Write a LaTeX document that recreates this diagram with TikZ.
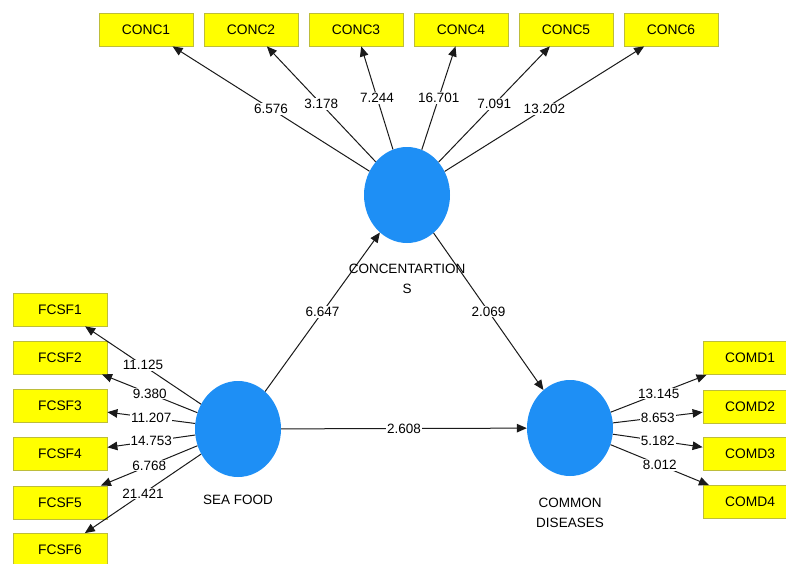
\documentclass[tikz,border=0pt]{standalone}
\usepackage{fontspec}
\setmainfont{Liberation Sans}
\usetikzlibrary{arrows.meta,shapes.geometric}
\definecolor{boxyellow}{HTML}{FFFF00}
\definecolor{boxedge}{HTML}{BDBD3A}
\definecolor{lvblue}{HTML}{1E8FF5}
\definecolor{linegray}{HTML}{1A1A1A}
\tikzset{
  ind/.style={rectangle, fill=boxyellow, draw=boxedge, line width=0.8pt,
    minimum width=94pt, minimum height=33pt, inner sep=0pt,
    font=\fontsize{13.8}{15}\selectfont},
  lv/.style={ellipse, fill=lvblue, draw=none, minimum width=86pt,
    minimum height=96pt, inner sep=0pt},
  lvtext/.style={align=center, font=\fontsize{13.5}{20}\selectfont, inner sep=0pt},
  arr/.style={draw=linegray, line width=1pt, -{Triangle[length=10pt,width=8.5pt]}},
  lab/.style={fill=white, inner sep=1pt, font=\fontsize{13.5}{15}\selectfont}
}
\begin{document}
\begin{tikzpicture}[x=1pt,y=-1pt]
\useasboundingbox (0,0) rectangle (786,563);
\fill[white] (0,0) rectangle (786,563);

% latent variables
\node[lv] (conc) at (407,195) {};
\node[lv] (sf) at (238,429) {};
\node[lv] (cd) at (570,428) {};

% indicator boxes
\node[ind] (c1) at (146,29.5) {CONC1};
\node[ind] (c2) at (251,29.5) {CONC2};
\node[ind] (c3) at (356,29.5) {CONC3};
\node[ind] (c4) at (461,29.5) {CONC4};
\node[ind] (c5) at (566,29.5) {CONC5};
\node[ind] (c6) at (671,29.5) {CONC6};

\node[ind] (f1) at (60,309.5) {FCSF1};
\node[ind] (f2) at (60,357.5) {FCSF2};
\node[ind] (f3) at (60,406) {FCSF3};
\node[ind] (f4) at (60,454) {FCSF4};
\node[ind] (f5) at (60,502.5) {FCSF5};
\node[ind] (f6) at (60,550) {FCSF6};

\node[ind] (d1) at (750,358) {COMD1};
\node[ind] (d2) at (750,406.5) {COMD2};
\node[ind] (d3) at (750,454) {COMD3};
\node[ind] (d4) at (750,502) {COMD4};

% outer loadings
\draw[arr] (conc) -- node[lab]{6.576} (c1);
\draw[arr] (conc) -- node[lab]{3.178} (c2);
\draw[arr] (conc) -- node[lab]{7.244} (c3);
\draw[arr] (conc) -- node[lab]{16.701} (c4);
\draw[arr] (conc) -- node[lab]{7.091} (c5);
\draw[arr] (conc) -- node[lab]{13.202} (c6);

\draw[arr] (sf) -- node[lab]{11.125} (f1);
\draw[arr] (sf) -- node[lab]{9.380} (f2);
\draw[arr] (sf) -- node[lab]{11.207} (f3);
\draw[arr] (sf) -- node[lab]{14.753} (f4);
\draw[arr] (sf) -- node[lab]{6.768} (f5);
\draw[arr] (sf) -- node[lab]{21.421} (f6);

\draw[arr] (cd) -- node[lab]{13.145} (d1);
\draw[arr] (cd) -- node[lab]{8.653} (d2);
\draw[arr] (cd) -- node[lab]{5.182} (d3);
\draw[arr] (cd) -- node[lab]{8.012} (d4);

% structural paths
\draw[arr] (sf) -- node[lab]{6.647} (conc);
\draw[arr] (conc) -- node[lab]{2.069} (cd);
\draw[arr] (sf) -- node[lab]{2.608} (cd);

% latent labels
\node[lvtext] (concl) at (407,279) {CONCENTARTION\\S};
\node[lvtext] (sfl) at (238,500) {SEA FOOD};
\node[lvtext] (cdl) at (570,512.5) {COMMON\\DISEASES};
\end{tikzpicture}
\end{document}
